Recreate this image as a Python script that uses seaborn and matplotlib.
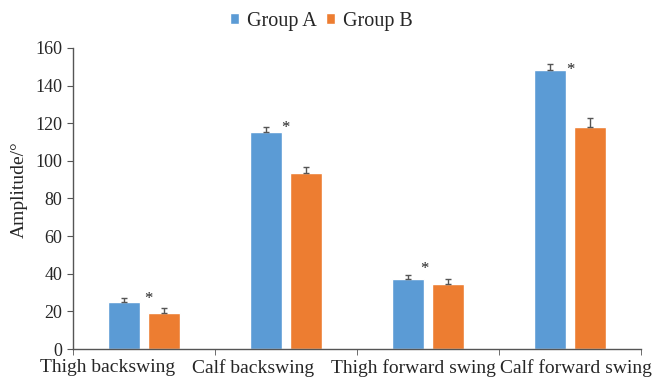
import numpy as np
import pandas as pd
import matplotlib
matplotlib.use("Agg")
import matplotlib.pyplot as plt
import seaborn as sns

# data
categories = ["Thigh backswing", "Calf backswing", "Thigh forward swing", "Calf forward swing"]
groups = ["Group A", "Group B"]
group_a = [25.0, 115.5, 37.3, 148.0]
group_b = [19.3, 93.6, 34.8, 118.0]
err_a = [2.0, 2.6, 1.8, 3.6]
err_b = [2.3, 3.0, 2.2, 4.8]

# significance marks: (group index, category index)
stars = [(1, 0), (0, 1), (0, 2), (0, 3)]

colors = ["#5B9BD5", "#ED7D31"]

df = pd.DataFrame({
    "category": categories * 2,
    "group": [groups[0]] * 4 + [groups[1]] * 4,
    "value": group_a + group_b,
})

sns.set_style("white")
plt.rcParams['font.family'] = ['Liberation Serif', 'DejaVu Serif']

fig = plt.figure(figsize=(6.52, 3.77), dpi=100)
ax = fig.add_axes([0.112, 0.074, 0.871, 0.799])

sns.barplot(data=df, x="category", y="value", hue="group", palette=colors,
            width=0.56, gap=0.2, errorbar=None, saturation=1, ax=ax)

# error bars, upper side only
vals = [group_a, group_b]
errs = [err_a, err_b]
for gi in range(2):
    for i, bar in enumerate(ax.containers[gi]):
        xc = bar.get_x() + bar.get_width() / 2
        ax.errorbar(xc, vals[gi][i], yerr=[[0], [errs[gi][i]]], fmt="none",
                    ecolor="#555555", elinewidth=1, capsize=2.5, capthick=1)

# asterisks (Excel put them in slightly different spots for each bar)
star_dx = {(1, 0): 0.0, (0, 1): 1.1, (0, 2): 1.0, (0, 3): 1.15}
star_dy = {(1, 0): 7.5, (0, 1): 2.0, (0, 2): 5.5, (0, 3): 0.0}
for gi, ci in stars:
    bar = ax.containers[gi][ci]
    ax.text(bar.get_x() + star_dx[(gi, ci)] * bar.get_width(),
            vals[gi][ci] + star_dy[(gi, ci)], "*",
            ha="center", va="center", fontsize=12, color="#222222")

ax.set_ylim(0, 160)
ax.set_xlim(-0.5, len(categories) - 0.5)
ax.set_yticks(np.arange(0, 161, 20))
ax.set_xlabel("")
ax.set_ylabel("Amplitude/°", fontsize=14)
ax.yaxis.set_label_coords(-0.08, 0.53)

# labels sit where Excel pushed them to avoid overlapping
label_shift = [-0.26, -0.23, -0.1, 0.04]
ax.set_xticks(np.arange(len(categories)) + np.array(label_shift), categories)
ax.set_xticks(np.arange(-0.5, len(categories), 1.0), minor=True)
ax.tick_params(axis="x", which="major", length=0, labelsize=14, pad=7)
ax.tick_params(axis="x", which="minor", length=4, direction="out", color="#555555", bottom=True)
ax.tick_params(axis="y", length=4, direction="out", color="#555555", labelsize=13, left=True)

sns.despine(ax=ax)
for side in ["left", "bottom"]:
    ax.spines[side].set_color("#555555")
    ax.spines[side].set_linewidth(1)

ax.legend(loc="lower center", bbox_to_anchor=(0.438, 1.03), ncol=2, frameon=False,
          fontsize=14.5, handlelength=0.45, handleheight=0.45, handletextpad=0.4,
          columnspacing=0.45, borderaxespad=0)

fig.savefig("out.png", dpi=100)
